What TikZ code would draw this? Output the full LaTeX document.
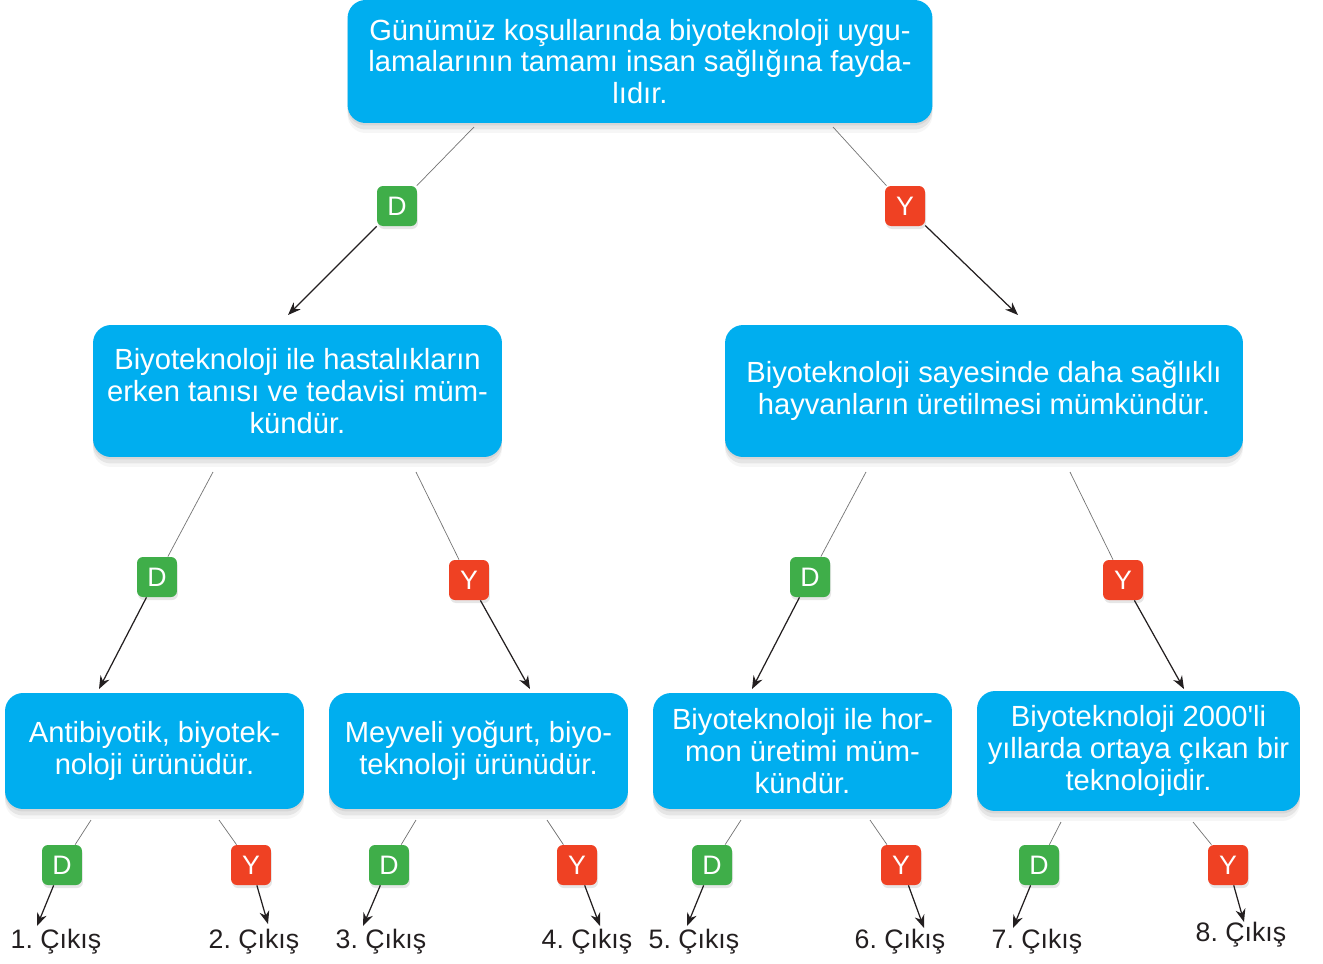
\documentclass[tikz,border=0pt]{standalone}
\usepackage{fontspec}
\setmainfont{Liberation Sans}
\usetikzlibrary{arrows.meta,shadows}
\definecolor{boxblue}{HTML}{00AEEF}
\definecolor{dgreen}{HTML}{3FAE49}
\definecolor{yred}{HTML}{EF4123}
\definecolor{ink}{HTML}{231F20}
\begin{document}
\frenchspacing
\begin{tikzpicture}[x=0.02cm,y=-0.02cm,
  txt/.style={font=\fontsize{16.6}{18.1}\selectfont},
  etxt/.style={font=\fontsize{15.2}{18.1}\selectfont},
  box/.style={txt, fill=boxblue, rounded corners=0.36cm, text=white, align=center, inner sep=0pt,
    drop shadow={shadow xshift=0cm, shadow yshift=-0.05cm, opacity=0.15},
    drop shadow={shadow xshift=0cm, shadow yshift=-0.13cm, opacity=0.15},
    drop shadow={shadow xshift=0cm, shadow yshift=-0.2cm, opacity=0.07}},
  lab/.style={etxt, text=white, minimum width=0.8cm, minimum height=0.8cm, inner sep=0pt, rounded corners=0.12cm,
    drop shadow={shadow xshift=0.02cm, shadow yshift=-0.06cm, opacity=0.2}},
  dlab/.style={lab, fill=dgreen},
  ylab/.style={lab, fill=yred},
  exitlab/.style={etxt, text=ink, inner sep=0pt},
  gline/.style={draw=black!55, line width=0.4pt},
  arr/.style={draw=ink, line width=0.7pt, -{Stealth[length=0.26cm,width=0.2cm]}}
]
\useasboundingbox (0,0) rectangle (1323,964);

% boxes
\node[box, minimum width=11.7cm, minimum height=2.46cm] (top) at (640,61.5)
  {Günümüz koşullarında biyoteknoloji uygu-\\lamalarının tamamı insan sağlığına fayda-\\lıdır.};
\node[box, minimum width=8.18cm, minimum height=2.64cm] (l) at (297.5,391)
  {Biyoteknoloji ile hastalıkların\\erken tanısı ve tedavisi müm-\\kündür.};
\node[box, minimum width=10.36cm, minimum height=2.64cm] (r) at (984,391)
  {Biyoteknoloji sayesinde daha sağlıklı\\hayvanların üretilmesi mümkündür.};
\node[box, minimum width=5.98cm, minimum height=2.32cm] (b1) at (154.5,751)
  {Antibiyotik, biyotek-\\noloji ürünüdür.};
\node[box, minimum width=5.98cm, minimum height=2.32cm] (b2) at (478.5,751)
  {Meyveli yoğurt, biyo-\\teknoloji ürünüdür.};
\node[box, minimum width=5.98cm, minimum height=2.32cm] (b3) at (802.5,751)
  {Biyoteknoloji ile hor-\\mon üretimi müm-\\kündür.};
\node[box, minimum width=6.46cm, minimum height=2.4cm] (b4) at (1138.5,751)
  {Biyoteknoloji 2000\textquotesingle li\\yıllarda ortaya çıkan bir\\teknolojidir.};

% level 1 labels
\node[dlab] (d0) at (397,206) {D};
\node[ylab] (y0) at (905,206) {Y};
% level 2 labels
\node[dlab] (dl) at (157,577) {D};
\node[ylab] (yl) at (469,580) {Y};
\node[dlab] (dr) at (810,577) {D};
\node[ylab] (yr) at (1123,580) {Y};
% level 3 labels
\node[dlab] (d1) at (62,865) {D};
\node[ylab] (y1) at (251,865) {Y};
\node[dlab] (d2) at (389,865) {D};
\node[ylab] (y2) at (577,865) {Y};
\node[dlab] (d3) at (712,865) {D};
\node[ylab] (y3) at (901,865) {Y};
\node[dlab] (d4) at (1039,865) {D};
\node[ylab] (y4) at (1228,865) {Y};

% exits
\node[exitlab] (e1) at (56,942) {1. Çıkış};
\node[exitlab] (e2) at (254,942) {2. Çıkış};
\node[exitlab] (e3) at (381,942) {3. Çıkış};
\node[exitlab] (e4) at (587,942) {4. Çıkış};
\node[exitlab] (e5) at (694,942) {5. Çıkış};
\node[exitlab] (e6) at (900,942) {6. Çıkış};
\node[exitlab] (e7) at (1037,942) {7. Çıkış};
\node[exitlab] (e8) at (1241,935) {8. Çıkış};

% start coordinates (below boxes)
\coordinate (s0a) at (474,127);
\coordinate (s0b) at (833,127);
\coordinate (sla) at (213,472);
\coordinate (slb) at (416,472);
\coordinate (sra) at (866,472);
\coordinate (srb) at (1070,472);
\coordinate (s1a) at (91,820);
\coordinate (s1b) at (219,820);
\coordinate (s2a) at (416,820);
\coordinate (s2b) at (547,820);
\coordinate (s3a) at (741,820);
\coordinate (s3b) at (870,820);
\coordinate (s4a) at (1061,822);
\coordinate (s4b) at (1193,822);
% arrow end coordinates
\coordinate (t0a) at (288,315);
\coordinate (t0b) at (1018,315);
\coordinate (tla) at (99,689);
\coordinate (tlb) at (530,689);
\coordinate (tra) at (752,689);
\coordinate (trb) at (1184,689);
\coordinate (t1a) at (37,926);
\coordinate (t1b) at (268,924);
\coordinate (t2a) at (363,926);
\coordinate (t2b) at (600,926);
\coordinate (t3a) at (687,926);
\coordinate (t3b) at (924,928);
\coordinate (t4a) at (1013,928);
\coordinate (t4b) at (1244,922);

% gray segments
\foreach \s/\l in {s0a/d0,s0b/y0,sla/dl,slb/yl,sra/dr,srb/yr,s1a/d1,s1b/y1,s2a/d2,s2b/y2,s3a/d3,s3b/y3,s4a/d4,s4b/y4}
  \draw[gline] (\s) -- (\l);
% arrows
\foreach \l/\t in {d0/t0a,y0/t0b,dl/tla,yl/tlb,dr/tra,yr/trb,d1/t1a,y1/t1b,d2/t2a,y2/t2b,d3/t3a,y3/t3b,d4/t4a,y4/t4b}
  \draw[arr] (\l) -- (\t);
\end{tikzpicture}
\end{document}
